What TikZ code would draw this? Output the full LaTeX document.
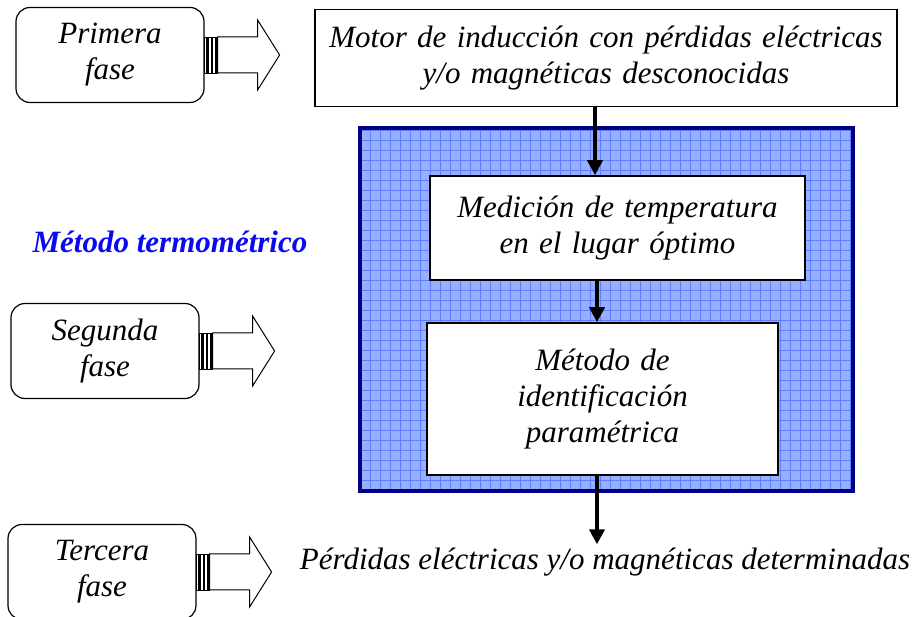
\documentclass[tikz,border=0pt]{standalone}
\usepackage{fontspec}
\setmainfont{Liberation Serif}
\newfontfamily\textofont{Liberation Serif}
\usetikzlibrary{arrows.meta}
\definecolor{celeste}{RGB}{150,176,255}
\definecolor{rejillaazul}{RGB}{95,125,255}
\definecolor{marino}{RGB}{0,0,130}
\definecolor{titulo}{RGB}{10,10,240}
\tikzset{flecha/.style = {line width=4pt, -{Triangle[length=15pt,width=15pt]}}}

\begin{document}
\begin{tikzpicture}[
    x=1pt, y=-1pt,
    font=\textofont\fontsize{31}{36}\selectfont\itshape,
    execute at begin node=\textofont\itshape,
    fase/.style={draw, rounded corners=14pt, line width=1.2pt,
        minimum width=188pt, minimum height=95pt, text width=175pt, align=center},
    caja/.style={draw, fill=white, line width=1.5pt, align=center},
    bloque/.style={draw, fill=white, line width=1pt},
    rejilla/.style={rejillaazul, line width=0.6pt, step=10pt},
    ]

    \useasboundingbox (0,0) rectangle (914,617);

    % Marco azul
    \node[fill=celeste, minimum width=493pt, minimum height=363pt] (azul) at (606.5,309.5) {};
    \begin{scope}
        \clip (azul.south west) rectangle (azul.north east);
        \draw[rejilla] (azul.south west) grid (azul.north east);
    \end{scope}
    \draw[marino, line width=4pt] (azul.south west) rectangle (azul.north east);

    % Fases
    \node[fase] (fase1) at (110,55) {Primera\\fase};
    \node[fase] (fase2) at (105,351) {Segunda\\fase};
    \node[fase] (fase3) at (102,572) {Tercera\\fase};

    % Flechas huecas
    \foreach \f in {fase1,fase2,fase3}{
        \draw[bloque] ([shift={(13,-18)}]\f.east) -- ++(40,0) -- ++(0,-17) -- ++(22,35)
            -- ++(-22,35) -- ++(0,-17) -- ++(-40,0) -- cycle;
        \draw[line width=0.8pt] ([shift={(0,-18)}]\f.east) rectangle ++(13,36);
        \fill ([shift={(1,-18)}]\f.east) rectangle ++(3,36);
        \fill ([shift={(6,-18)}]\f.east) rectangle ++(2.5,36);
        \fill ([shift={(10,-18)}]\f.east) rectangle ++(3,36);
    }

    % Cajas
    \node[caja, minimum width=582pt, minimum height=97pt, text width=570pt] (motor) at (606,58)
        {Motor de inducción con pérdidas eléctricas\\y/o magnéticas desconocidas};
    \node[caja, minimum width=375pt, minimum height=104pt, text width=362pt] (medicion) at (617.5,228)
        {Medición de temperatura\\en el lugar óptimo};
    \node[caja, minimum width=351pt, minimum height=152pt, text width=338pt] (identif) at (602.5,399)
        {Método de\\identificación\\paramétrica};

    % Textos
    \node[text=titulo, font=\textofont\fontsize{31}{36}\selectfont\bfseries\itshape,
        execute at begin node=\textofont\bfseries\itshape] (metodo) at (170,242) {Método termométrico};
    \node (perdidas) at (605,562) {Pérdidas eléctricas y/o magnéticas determinadas};

    % Flechas
    \draw[flecha] ([xshift=-11pt]motor.south) -- ([xshift=-11pt]motor.south |- medicion.north);
    \draw[flecha] ([xshift=-20.5pt]medicion.south) -- ([xshift=-20.5pt]medicion.south |- identif.north);
    \draw[flecha] ([xshift=-5.5pt]identif.south) -- ([xshift=-5.5pt]identif.south |- perdidas.north);

\end{tikzpicture}
\end{document}
